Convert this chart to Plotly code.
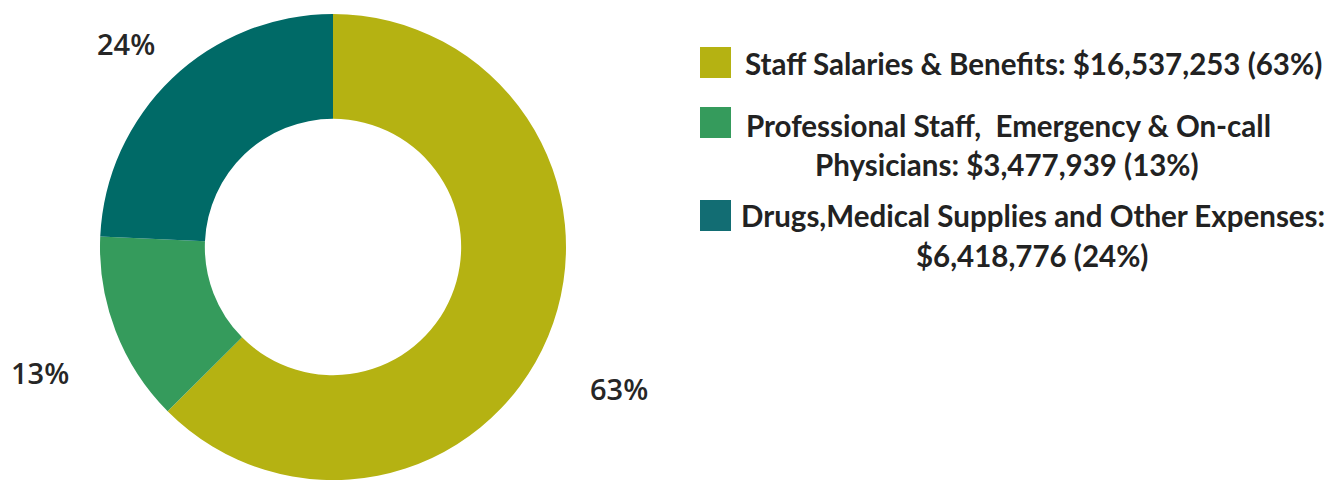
import plotly.graph_objects as go

# ---- data ----
categories = [
    "Staff Salaries & Benefits",
    "Professional Staff,\u00a0 Emergency & On-call Physicians",
    "Drugs,Medical Supplies and Other Expenses",
]
values = [16537253, 3477939, 6418776]
slice_colors = ["#b5b212", "#359b5c", "#006a67"]
swatch_colors = ["#b5b212", "#359b5c", "#126d73"]
# where each legend label wraps (text before / after the break)
wrap_after = [None, "Emergency & On-call", "Other Expenses:"]

W, H = 1341, 480
total = sum(values)
pcts = [round(v / total * 100) for v in values]

fig = go.Figure()
cx, cy, r = 333, 247, 233
fig.add_trace(go.Pie(
    labels=categories,
    values=values,
    hole=0.55,
    sort=False,
    direction="clockwise",
    rotation=0,
    marker=dict(colors=slice_colors, line=dict(width=0)),
    textinfo="none",
    hoverinfo="label+value+percent",
    showlegend=False,
    domain=dict(x=[(cx - r) / W, (cx + r) / W], y=[(H - cy - r) / H, (H - cy + r) / H]),
))

def px(x):
    return x / W

def py(y):
    return 1 - y / H

annotations = []
shapes = []

# percent labels outside the ring
pct_pos = [(619, 388), (40, 372), (126, 43)]
for p, (x, y) in zip(pcts, pct_pos):
    annotations.append(dict(
        x=px(x), y=py(y), xref="paper", yref="paper", showarrow=False,
        text=f"{p}%", xanchor="center", yanchor="middle",
        font=dict(family="Open Sans", size=29, color="#262626", weight=600),
    ))

# custom legend
swatch_top = [47, 107, 200]
line_layout = [
    [(1033, 64)],
    [(1008, 125), (1007, 164)],
    [(1033, 216), (1032, 255)],
]
for i, (cat, v, p) in enumerate(zip(categories, values, pcts)):
    full = f"{cat}: ${v:,} ({p}%)"
    if wrap_after[i] and wrap_after[i] in full:
        k = full.index(wrap_after[i]) + len(wrap_after[i])
        lines = [full[:k].strip(), full[k:].strip()]
    else:
        lines = [full]
    t = swatch_top[i]
    shapes.append(dict(
        type="rect", xref="paper", yref="paper",
        x0=px(700), x1=px(731), y0=py(t), y1=py(t + 31),
        fillcolor=swatch_colors[i], line=dict(width=0),
    ))
    for line, (x, y) in zip(lines, line_layout[i]):
        annotations.append(dict(
            x=px(x), y=py(y), xref="paper", yref="paper", showarrow=False,
            text=line, xanchor="center", yanchor="middle",
            font=dict(family="Lato", size=29.5, color="#222222", weight="bold"),
        ))

fig.update_layout(
    width=W, height=H,
    margin=dict(l=0, r=0, t=0, b=0),
    paper_bgcolor="white",
    plot_bgcolor="white",
    annotations=annotations,
    shapes=shapes,
    showlegend=False,
)

fig.write_html(
    "out.html",
    config={"displayModeBar": False},
    post_script="document.body.style.margin='0';document.body.style.padding='0';",
)
